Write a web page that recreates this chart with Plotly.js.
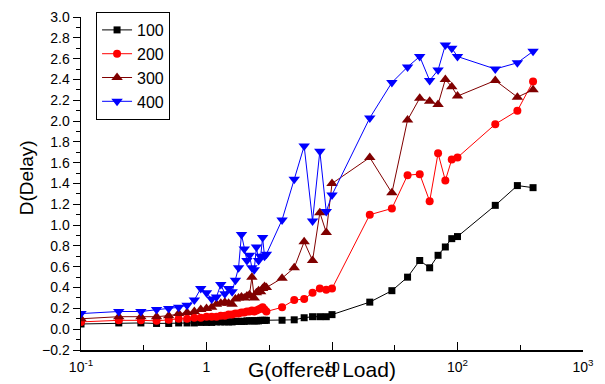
<!DOCTYPE html>
<html>
<head>
<meta charset="utf-8">
<script src="https://cdn.plot.ly/plotly-3.0.1.min.js"></script>
<style>html,body{margin:0;padding:0;background:#fff;}#chart{width:605px;height:384px;}</style>
</head>
<body>
<div id="chart"></div>
<script>
// offered load G
const loadG = [0.1,0.2,0.3,0.4,0.5,0.6,0.7,0.8,0.9,1.0,
  1.1,1.2,1.3,1.4,1.5,1.6,1.7,1.8,1.9,2.0,
  2.1,2.2,2.3,2.4,2.5,2.6,2.7,2.8,2.9,3.0,
  4,5,6,7,8,9,10,20,30,40,50,60,70,80,90,100,200,300,400];

const delay100 = [0.05,0.06,0.06,0.055,0.055,0.06,0.06,0.06,0.065,0.065,
  0.065,0.07,0.07,0.07,0.07,0.07,0.075,0.075,0.075,0.075,
  0.08,0.08,0.08,0.08,0.08,0.08,0.085,0.085,0.085,0.085,
  0.086,0.09,0.11,0.12,0.12,0.12,0.14,0.26,0.37,0.50,0.66,0.59,0.71,0.79,0.87,0.89,1.19,1.38,1.36];

const delay200 = [0.07,0.085,0.085,0.08,0.09,0.10,0.10,0.11,0.11,0.12,
  0.12,0.12,0.13,0.13,0.14,0.14,0.15,0.15,0.16,0.16,
  0.17,0.17,0.18,0.17,0.18,0.19,0.20,0.21,0.19,0.17,
  0.21,0.28,0.29,0.35,0.39,0.38,0.39,1.10,1.16,1.48,1.49,1.23,1.69,1.43,1.63,1.65,1.97,2.10,2.38];

const delay300 = [0.10,0.12,0.12,0.12,0.13,0.15,0.16,0.17,0.19,0.20,
  0.21,0.24,0.25,0.26,0.25,0.24,0.29,0.30,0.31,0.30,
  0.32,0.33,0.50,0.30,0.35,0.37,0.36,0.39,0.41,0.40,
  0.49,0.59,0.84,0.66,1.12,0.93,1.40,1.65,1.31,2.01,2.22,2.19,2.16,2.40,2.33,2.24,2.39,2.23,2.30];

const delay400 = [0.15,0.17,0.17,0.19,0.20,0.21,0.23,0.28,0.39,0.35,
  0.29,0.31,0.43,0.34,0.39,0.36,0.47,0.59,0.91,0.77,
  0.66,0.71,0.59,0.57,0.79,0.66,0.70,0.88,0.70,0.72,
  1.05,1.44,1.76,1.04,1.71,1.13,1.29,2.03,2.37,2.52,2.62,2.39,2.49,2.73,2.70,2.62,2.50,2.56,2.67];

const seriesNames = ['100','200','300','400'];
const xTickVals = [0.1,1,10,100,1000];
const xTickText = ['10<sup>-1</sup>','1','10','10<sup>2</sup>','10<sup>3</sup>'];
const xMinorVals = [0.316,3.16,31.6,316];

const FONT = 'Liberation Sans, Arial, Helvetica, sans-serif';

function tr(y, name, color, symbol, size) {
  return {x: loadG, y: y, name: name, type: 'scatter', mode: 'lines+markers',
    line: {color: color, width: 1},
    marker: {color: color, symbol: symbol, size: size, line: {width: 0}}};
}

const data = [
  tr(delay100, seriesNames[0], '#000000', 'square', 7),
  tr(delay200, seriesNames[1], '#ff0000', 'circle', 8),
  tr(delay300, seriesNames[2], '#800000', 'triangle-up', 10),
  tr(delay400, seriesNames[3], '#0000ff', 'triangle-down', 10),
  {x: [1], y: [null], xaxis: 'x2', yaxis: 'y', showlegend: false, hoverinfo: 'skip', mode: 'markers'}
];

const layout = {
  width: 605, height: 384,
  margin: {l: 81, r: 22, t: 14, b: 34, pad: 0},
  paper_bgcolor: '#ffffff', plot_bgcolor: '#ffffff',
  font: {family: FONT, color: '#000', size: 14},
  showlegend: true,
  legend: {x: 0.03, y: 1.015, xanchor: 'left', yanchor: 'top',
    bordercolor: '#000', borderwidth: 1, bgcolor: '#fff',
    font: {family: FONT, size: 16, color: '#000'}, tracegroupgap: 0},
  xaxis: {type: 'log', range: [-1, 3], showgrid: false, zeroline: false,
    showline: true, linecolor: '#000', linewidth: 1.5,
    tickmode: 'array', tickvals: xTickVals, ticktext: xTickText,
    ticks: 'inside', ticklen: 8, tickwidth: 1, tickcolor: '#000',
    tickfont: {family: FONT, size: 14, color: '#000'}, ticklabelstandoff: 4},
  xaxis2: {type: 'log', range: [-1, 3], overlaying: 'x', anchor: 'y', side: 'bottom',
    showgrid: false, zeroline: false, showline: false,
    tickmode: 'array', tickvals: xMinorVals, ticks: 'inside', ticklen: 5, tickwidth: 1,
    tickcolor: '#000', showticklabels: false},
  yaxis: {range: [-0.2, 3.0], showgrid: false, zeroline: false,
    showline: true, linecolor: '#000', linewidth: 1.5,
    tickmode: 'linear', tick0: 0, dtick: 0.2, tickformat: '.1f',
    ticks: 'outside', ticklen: 7, tickwidth: 1, tickcolor: '#000',
    minor: {dtick: 0.1, tick0: 0, ticks: 'outside', ticklen: 4, tickwidth: 1, tickcolor: '#000'},
    tickfont: {family: FONT, size: 14, color: '#000'}},
  annotations: [
    {text: 'G(offered Load)', xref: 'paper', yref: 'paper', x: 0.48, y: -0.058,
     xanchor: 'center', yanchor: 'middle', showarrow: false,
     font: {family: FONT, size: 21, color: '#000'}},
    {text: 'D(Delay)', xref: 'paper', yref: 'paper', x: -0.108, y: 0.518,
     xanchor: 'center', yanchor: 'middle', showarrow: false, textangle: -90,
     font: {family: FONT, size: 19, color: '#000'}}
  ]
};

Plotly.newPlot('chart', data, layout, {displayModeBar: false, staticPlot: true});
</script>
</body>
</html>
